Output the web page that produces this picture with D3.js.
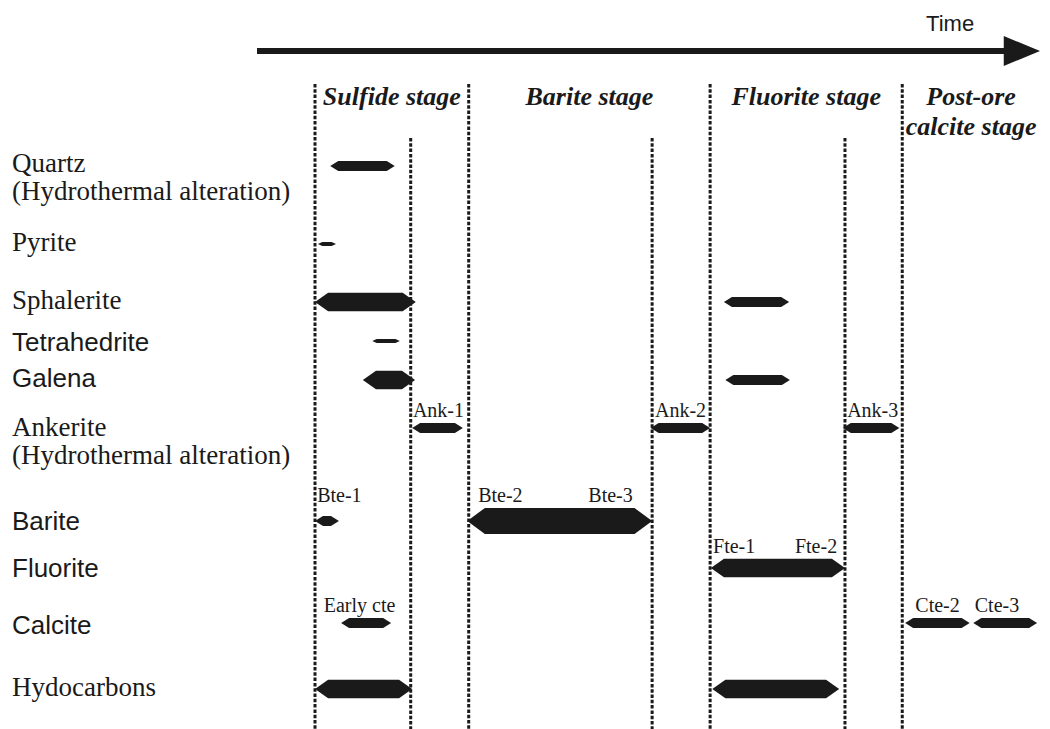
<!DOCTYPE html>
<html>
<head>
<meta charset="utf-8">
<script src="https://cdn.jsdelivr.net/npm/d3@7"></script>
<style>
  body { margin: 0; background: #fff; }
</style>
</head>
<body>
<div class="canvas"></div>
<script>
//minerals (rows) and their label lines
const minerals = ['Quartz', 'Pyrite', 'Sphalerite', 'Tetrahedrite', 'Galena',
    'Ankerite', 'Barite', 'Fluorite', 'Calcite', 'Hydocarbons'];

const mineralLabels = [
    ['Quartz', '(Hydrothermal alteration)'],
    ['Pyrite'],
    ['Sphalerite'],
    ['Tetrahedrite'],
    ['Galena'],
    ['Ankerite', '(Hydrothermal alteration)'],
    ['Barite'],
    ['Fluorite'],
    ['Calcite'],
    ['Hydocarbons']
];

//stages (relative time units 0-100)
const stageNames = [['Sulfide stage'], ['Barite  stage'], ['Fluorite stage'], ['Post-ore', 'calcite stage']];
const stageBounds = [0, 21.2, 54.5, 81.0, 100];
const subBounds = [13.2, 46.5, 73.1];

//mineral, start, end, abundance level (1-4)
const intervals = [
    ['Quartz', 2.1, 11.0, 2],
    ['Pyrite', 0.4, 2.9, 1],
    ['Sphalerite', 0.0, 13.9, 3],
    ['Sphalerite', 56.4, 65.4, 2],
    ['Tetrahedrite', 7.9, 11.7, 1],
    ['Galena', 6.6, 13.8, 3],
    ['Galena', 56.6, 65.5, 2],
    ['Ankerite', 13.4, 20.4, 2],
    ['Ankerite', 46.3, 54.5, 2],
    ['Ankerite', 72.8, 80.6, 2],
    ['Barite', 0.0, 3.3, 2],
    ['Barite', 21.0, 46.5, 4],
    ['Fluorite', 54.6, 73.1, 3],
    ['Calcite', 3.6, 10.5, 2],
    ['Calcite', 81.4, 90.3, 2],
    ['Calcite', 90.8, 99.6, 2],
    ['Hydocarbons', 0.0, 13.4, 3],
    ['Hydocarbons', 54.8, 72.3, 3]
];

//generation labels: text, mineral, time of left edge
const generations = [
    ['Ank-1', 'Ankerite', 13.5],
    ['Ank-2', 'Ankerite', 46.9],
    ['Ank-3', 'Ankerite', 73.4],
    ['Bte-1', 'Barite', 0.3],
    ['Bte-2', 'Barite', 22.5],
    ['Bte-3', 'Barite', 37.7],
    ['Fte-1', 'Fluorite', 54.9],
    ['Fte-2', 'Fluorite', 66.2],
    ['Early cte', 'Calcite', 1.2],
    ['Cte-2', 'Calcite', 82.8],
    ['Cte-3', 'Calcite', 91.0]
];

//layout
const dims = { width: 1050, height: 729 };
const rowCenters = [166, 244, 302, 341, 380, 428, 521, 568, 623, 689];
const labelBaselines = [172, 251, 309, 351, 387, 436, 530, 577, 634, 696];
const sansRows = ['Tetrahedrite', 'Galena', 'Barite', 'Fluorite', 'Calcite'];

const serif = '"Liberation Serif", "Times New Roman", serif';
const sans = '"Liberation Sans", Arial, sans-serif';
const ink = '#1a1a1a';

const svg = d3.select('.canvas')
    .append('svg')
    .attr('width', dims.width)
    .attr('height', dims.height);

//scales
const x = d3.scaleLinear().domain([0, 100]).range([315, 1040]);
const y = d3.scaleOrdinal().domain(minerals).range(rowCenters);
const thick = d3.scaleLinear().domain([1, 2, 3, 4]).range([4, 10, 18.5, 26]);

//time arrow
svg.append('line')
    .attr('x1', x(-8)).attr('x2', x(96))
    .attr('y1', 51).attr('y2', 51)
    .attr('stroke', ink)
    .attr('stroke-width', 6);

svg.append('path')
    .attr('d', `M${x(95)},36 L${x(100)},51 L${x(95)},66 Z`)
    .attr('fill', ink);

svg.append('text')
    .attr('x', x(87.6))
    .attr('y', 31)
    .attr('text-anchor', 'middle')
    .attr('font-family', sans)
    .attr('font-size', 22)
    .attr('fill', ink)
    .text('Time');

//dashed stage boundaries
const dash = (t, top) => svg.append('line')
    .attr('x1', x(t)).attr('x2', x(t))
    .attr('y1', top).attr('y2', dims.height)
    .attr('stroke', ink)
    .attr('stroke-width', 3)
    .attr('stroke-dasharray', '3.5,1.8');

stageBounds.slice(0, 4).forEach(t => dash(t, 84));
subBounds.forEach(t => dash(t, 138));

//stage titles
stageNames.forEach((lines, i) => {
    const cx = x((stageBounds[i] + stageBounds[i + 1]) / 2);
    lines.forEach((s, j) => {
        svg.append('text')
            .attr('x', cx)
            .attr('y', 105 + j * 30)
            .attr('text-anchor', 'middle')
            .attr('font-family', serif)
            .attr('font-style', 'italic')
            .attr('font-weight', 'bold')
            .attr('font-size', 26)
            .attr('fill', ink)
            .text(s);
    });
});

//row labels
minerals.forEach((m, i) => {
    const isSans = sansRows.includes(m);
    mineralLabels[i].forEach((s, j) => {
        svg.append('text')
            .attr('x', 12)
            .attr('y', labelBaselines[i] + j * 28)
            .attr('font-family', isSans ? sans : serif)
            .attr('font-size', isSans ? 26 : 27)
            .attr('fill', ink)
            .text(s);
    });
});

//bar shape with pointed ends
const barPath = d => {
    const x0 = x(d[1]), x1 = x(d[2]), cy = y(d[0]);
    const h = thick(d[3]) / 2;
    const tip = Math.min(0.6 * h * 2 + 2, (x1 - x0) / 2);
    return `M${x0},${cy} L${x0 + tip},${cy - h} L${x1 - tip},${cy - h} L${x1},${cy}`
        + ` L${x1 - tip},${cy + h} L${x0 + tip},${cy + h} Z`;
};

svg.append('g')
    .selectAll('path')
    .data(intervals)
    .enter()
    .append('path')
        .attr('d', barPath)
        .attr('fill', ink);

//generation labels sit above the thickest bar of the row
const rowMax = m => d3.max(intervals.filter(d => d[0] === m), d => thick(d[3]));

svg.append('g')
    .selectAll('text')
    .data(generations)
    .enter()
    .append('text')
        .attr('x', d => x(d[2]))
        .attr('y', d => y(d[1]) - rowMax(d[1]) / 2 - 6)
        .attr('font-family', serif)
        .attr('font-size', 20)
        .attr('fill', ink)
        .text(d => d[0]);
</script>
</body>
</html>
